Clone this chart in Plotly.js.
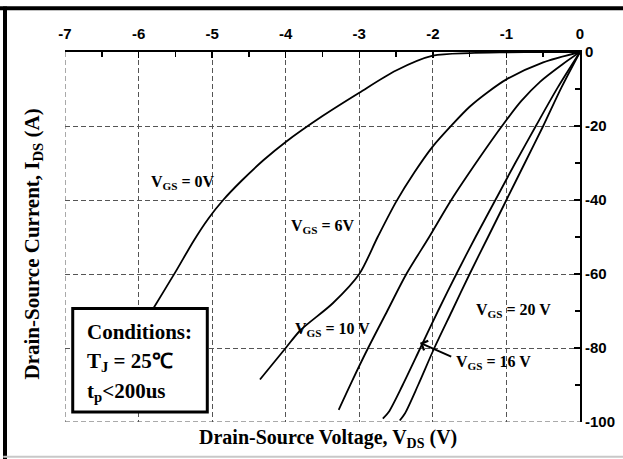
<!DOCTYPE html>
<html>
<head>
<meta charset="utf-8">
<script src="https://cdn.plot.ly/plotly-3.0.1.min.js"></script>
<style>html,body{margin:0;padding:0;background:#fff;}#chart{width:623px;height:459px;}</style>
</head>
<body>
<div id="chart"></div>
<script>
// Data (V_DS in volts, I_DS in amps)
const vgs0_x  = [0, -0.5, -1.0, -1.5, -2.0, -2.5, -3.0, -3.5, -4.0, -4.3, -4.6, -4.85, -5.05, -5.25, -5.5, -5.8, -6.1];
const vgs0_y  = [0, 0, -0.1, -0.3, -1.0, -5.0, -11.0, -17.3, -24.3, -29.2, -34.8, -40, -45, -51, -59.5, -69.3, -79];
const vgs6_x  = [0, -0.5, -1.0, -1.25, -1.5, -1.74, -2.0, -2.25, -2.5, -2.75, -3.0, -3.36, -3.8, -4.0, -4.35];
const vgs6_y  = [0, -2.8, -7.4, -10.8, -14.8, -19.7, -25.5, -32.5, -40.5, -50, -60, -67.9, -75.2, -80, -88.5];
const vgs10_x = [0, -0.25, -0.54, -0.8, -1.06, -1.38, -1.75, -2.05, -2.36, -2.62, -2.88, -3.1, -3.28];
const vgs10_y = [0, -3.5, -8, -13.3, -20, -29, -40, -50, -60, -70, -80, -89, -96.7];
const vgs16_x = [0, -0.3, -0.6, -0.88, -1.15, -1.42, -1.68, -1.93, -2.17, -2.41, -2.6, -2.68];
const vgs16_y = [0, -9.5, -20, -30, -40, -50, -60, -70, -80, -90, -97.3, -99.1];
const vgs20_x = [0, -0.25, -0.5, -0.75, -1.0, -1.25, -1.5, -1.74, -1.98, -2.2, -2.38, -2.45];
const vgs20_y = [0, -9.5, -20, -30, -40, -50, -60, -70, -80, -90, -97.7, -99.6];

const xTickVals = [-7, -6, -5, -4, -3, -2, -1, 0];
const yTickVals = [-100, -80, -60, -40, -20, 0];

const serif = {family: 'Liberation Serif, Times New Roman, serif', weight: 'bold', color: '#000'};
const sans = {family: 'Liberation Sans, Arial, sans-serif', weight: 'bold', color: '#000', size: 15};

function curve(x, y) {
  return {x: x, y: y, type: 'scatter', mode: 'lines',
          line: {color: '#000', width: 1.8, shape: 'spline', smoothing: 0.8},
          hoverinfo: 'skip', showlegend: false};
}

const traces = [
  curve(vgs0_x, vgs0_y),
  curve(vgs6_x, vgs6_y),
  curve(vgs10_x, vgs10_y),
  curve(vgs16_x, vgs16_y),
  curve(vgs20_x, vgs20_y)
];

function label(text, x, y, size) {
  return {text: text, x: x, y: y, xref: 'x', yref: 'y', showarrow: false,
          font: Object.assign({size: size || 16}, serif)};
}

const annotations = [
  label('V<sub>GS</sub> = 0V', -5.40, -35.4),
  label('V<sub>GS</sub> = 6V', -3.49, -47.1),
  label('V<sub>GS</sub> = 10 V', -3.36, -74.9),
  label('V<sub>GS</sub> = 20 V', -0.91, -69.8),
  label('V<sub>GS</sub> = 16 V', -1.18, -83.9),
  {text: '', x: -2.175, y: -78.6, xref: 'x', yref: 'y', ax: -1.73, ay: -82.5,
   axref: 'x', ayref: 'y', showarrow: true, arrowhead: 4, arrowsize: 1, arrowwidth: 2, arrowcolor: '#000'},
  {text: 'Conditions:', x: -6.73, y: -75.7, xref: 'x', yref: 'y', xanchor: 'left', showarrow: false,
   font: Object.assign({size: 21}, serif)},
  {text: 'T<sub>J</sub> = 25℃', x: -6.73, y: -83.9, xref: 'x', yref: 'y', xanchor: 'left', showarrow: false,
   font: Object.assign({size: 21}, serif)},
  {text: 't<sub>p</sub>&lt;200us', x: -6.73, y: -92.0, xref: 'x', yref: 'y', xanchor: 'left', showarrow: false,
   font: Object.assign({size: 21}, serif)},
  {text: 'Drain-Source Voltage, V<sub>DS</sub> (V)', x: 0.51, y: -0.045, xref: 'paper', yref: 'paper',
   xanchor: 'center', yanchor: 'middle', showarrow: false, font: Object.assign({size: 20}, serif)},
  {text: 'Drain-Source Current, I<sub>DS</sub> (A)', x: -0.062, y: 0.48, xref: 'paper', yref: 'paper',
   xanchor: 'center', yanchor: 'middle', textangle: -90, showarrow: false, font: Object.assign({size: 21}, serif)}
];

const gridLine = {color: '#555', width: 1, dash: '5px,3px'};
const shapes = [
  // dashed grid lines at the left and bottom range ends
  {type: 'line', xref: 'x', yref: 'y', x0: -7, x1: -7, y0: 0, y1: -100, line: gridLine, layer: 'below'},
  {type: 'line', xref: 'x', yref: 'y', x0: -7, x1: 0, y0: -100, y1: -100, line: gridLine, layer: 'below'},
  // conditions box
  {type: 'rect', xref: 'x', yref: 'y', x0: -6.895, x1: -5.066, y0: -69.3, y1: -97.3,
   line: {color: '#000', width: 3}, fillcolor: '#fff', layer: 'above'},
  // outer frame
  {type: 'line', xref: 'paper', yref: 'paper', x0: -0.13, x1: 1.09, y0: 1.118, y1: 1.118,
   line: {color: '#000', width: 4}},
  {type: 'line', xref: 'paper', yref: 'paper', x0: -0.1165, x1: -0.1165, y0: -0.11, y1: 1.123,
   line: {color: '#000', width: 4}},
  {type: 'line', xref: 'paper', yref: 'paper', x0: -0.12, x1: 1.09, y0: -0.094, y1: -0.094,
   line: {color: '#c8c8c8', width: 2}}
];

const layout = {
  width: 623, height: 459,
  margin: {l: 65, r: 43, t: 52, b: 37, pad: 0},
  paper_bgcolor: '#fff', plot_bgcolor: '#fff',
  showlegend: false,
  xaxis: {
    side: 'top', range: [-7, 0], tickvals: xTickVals, ticktext: xTickVals.map(String),
    ticks: 'inside', ticklen: 6, tickwidth: 1.5, tickcolor: '#000', ticklabelstandoff: 5,
    minor: {dtick: 0.5, tick0: 0, ticks: 'inside', ticklen: 5, tickwidth: 1.5, tickcolor: '#000', showgrid: false},
    showline: true, linecolor: '#000', linewidth: 2, mirror: false,
    showgrid: true, gridcolor: '#555', gridwidth: 1, griddash: '5px,3px',
    zeroline: false, tickfont: sans, fixedrange: true
  },
  yaxis: {
    side: 'right', range: [-100, 0], tickvals: yTickVals, ticktext: yTickVals.map(String),
    ticks: 'inside', ticklen: 6, tickwidth: 1.5, tickcolor: '#000',
    minor: {dtick: 10, tick0: 0, ticks: 'inside', ticklen: 5, tickwidth: 1.5, tickcolor: '#000', showgrid: false},
    showline: true, linecolor: '#000', linewidth: 2, mirror: false,
    showgrid: true, gridcolor: '#555', gridwidth: 1, griddash: '5px,3px',
    zeroline: false, tickfont: sans, fixedrange: true
  },
  annotations: annotations,
  shapes: shapes
};

Plotly.newPlot('chart', traces, layout, {displayModeBar: false, staticPlot: true});
</script>
</body>
</html>
